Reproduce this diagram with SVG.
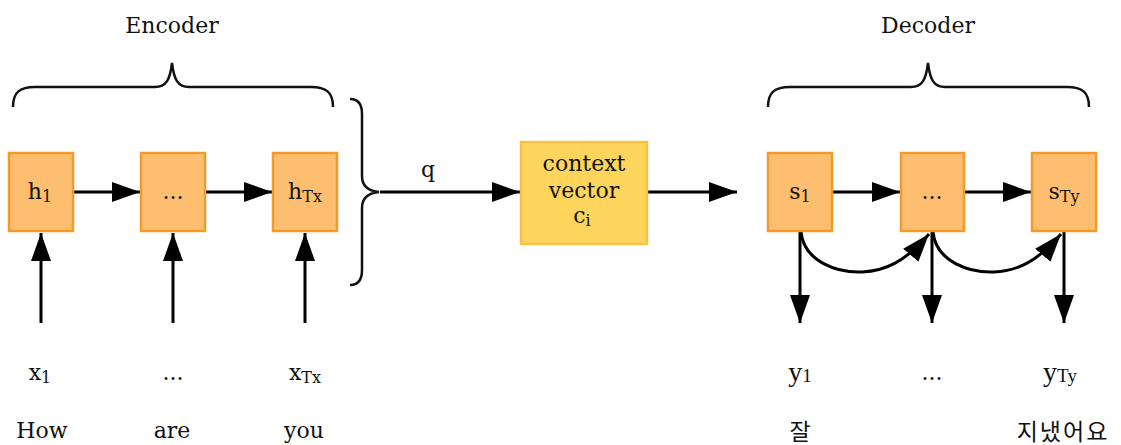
<svg xmlns="http://www.w3.org/2000/svg" width="1121" height="445" viewBox="0 0 1121 445">
<style>
text{font-family:"DejaVu Serif","Noto Sans CJK KR",serif;fill:#111;text-anchor:middle}
.t{font-size:22px}
.sub{font-size:16px}
.tm{font-family:"Liberation Serif",serif;font-size:28px}
.tms{font-size:19px}
.ko{font-family:"Noto Sans CJK KR","Liberation Sans",sans-serif;font-size:23px}
.box{fill:#FDBF6F;stroke:#F39A2A;stroke-width:2.5}
.ctx{fill:#FDD45C;stroke:#F6C446;stroke-width:2.5}
.ln{stroke:#000;stroke-width:3;fill:none}
.br{stroke:#111;stroke-width:2.5;fill:none}
</style>
<defs>
<marker id="a" viewBox="0 0 10 10" refX="10" refY="5" markerWidth="28" markerHeight="20" markerUnits="userSpaceOnUse" orient="auto" preserveAspectRatio="none">
<path d="M0,0 L10,5 L0,10 Z" fill="#000"/>
</marker>
</defs>

<text class="t" x="172" y="33">Encoder</text>
<text class="t" x="928" y="33">Decoder</text>
<path class="br" d="M13,107 C13,92 20,87 35,87 L155,87 C166,87 170,80 172,63 C174,80 178,87 189,87 L311,87 C326,87 333,92 333,107"/>
<path class="br" d="M768,107 C768,92 775,87 790,87 L911,87 C922,87 926,80 928,63 C930,80 934,87 945,87 L1067,87 C1082,87 1089,92 1089,107"/>
<path class="br" d="M350,99 C358,99 362,104 362,114 L362,176 C362,186 368,191 379,192 C368,193 362,198 362,208 L362,270 C362,280 358,285 350,285"/>

<g id="connectors">
<line class="ln" x1="73" y1="192" x2="140" y2="192" marker-end="url(#a)"/>
<line class="ln" x1="205" y1="192" x2="272" y2="192" marker-end="url(#a)"/>
<line class="ln" x1="41" y1="323" x2="41" y2="233" marker-end="url(#a)"/>
<line class="ln" x1="173" y1="323" x2="173" y2="233" marker-end="url(#a)"/>
<line class="ln" x1="305" y1="323" x2="305" y2="233" marker-end="url(#a)"/>
<line class="ln" x1="380" y1="192" x2="520" y2="192" marker-end="url(#a)"/>
<line class="ln" x1="647" y1="192" x2="737" y2="192" marker-end="url(#a)"/>
<line class="ln" x1="832" y1="192" x2="900" y2="192" marker-end="url(#a)"/>
<line class="ln" x1="964" y1="192" x2="1031" y2="192" marker-end="url(#a)"/>
<line class="ln" x1="800" y1="231" x2="800" y2="323" marker-end="url(#a)"/>
<line class="ln" x1="932" y1="231" x2="932" y2="323" marker-end="url(#a)"/>
<line class="ln" x1="1064" y1="231" x2="1064" y2="323" marker-end="url(#a)"/>
<path class="ln" d="M801,232 C804,262 838,273 862,272 C885,271 905,262 929,234" marker-end="url(#a)"/>
<path class="ln" d="M933,232 C936,262 970,273 994,272 C1017,271 1037,262 1061,234" marker-end="url(#a)"/>
<text class="t" x="428" y="177">q</text>
</g>

<g id="h1"><rect class="box" x="9" y="153" width="64" height="78"/><text class="t" x="40" y="199">h<tspan class="sub" dy="3">1</tspan></text></g>
<g id="hdots"><rect class="box" x="141" y="153" width="64" height="78"/><text class="t" x="173" y="199">...</text></g>
<g id="hTx"><rect class="box" x="273" y="153" width="64" height="78"/><text class="t" x="305" y="199">h<tspan class="sub" dy="3">Tx</tspan></text></g>

<g id="context"><rect class="ctx" x="521" y="142" width="126" height="102"/>
<text class="t" x="584" y="171">context</text>
<text class="t" x="584" y="198">vector</text>
<text class="t" x="582" y="223">c<tspan class="sub" dy="3">i</tspan></text></g>

<g id="s1"><rect class="box" x="768" y="153" width="64" height="78"/><text class="t" x="800" y="199">s<tspan class="sub" dy="3">1</tspan></text></g>
<g id="sdots"><rect class="box" x="901" y="153" width="63" height="78"/><text class="t" x="932" y="199">...</text></g>
<g id="sTy"><rect class="box" x="1032" y="153" width="64" height="78"/><text class="t" x="1064" y="199">s<tspan class="sub" dy="3">Ty</tspan></text></g>

<g id="inputs">
<text class="t" x="40" y="380">x<tspan class="sub" dy="3">1</tspan></text>
<text class="t" x="173" y="380">...</text>
<text class="t" x="305" y="380">x<tspan class="sub" dy="3">Tx</tspan></text>
<text class="t" x="42" y="438">How</text>
<text class="t" x="172" y="438">are</text>
<text class="t" x="304" y="438">you</text>
</g>
<g id="outputs">
<text class="tm" x="800" y="381">y<tspan class="tms" dy="1">1</tspan></text>
<text class="t" x="932" y="380">...</text>
<text class="tm" x="1060" y="381">y<tspan class="tms" dy="1">Ty</tspan></text>
<text class="ko" x="800" y="440">잘</text>
<text class="ko" x="1063" y="440" letter-spacing="2">지냈어요</text>
</g>
</svg>
